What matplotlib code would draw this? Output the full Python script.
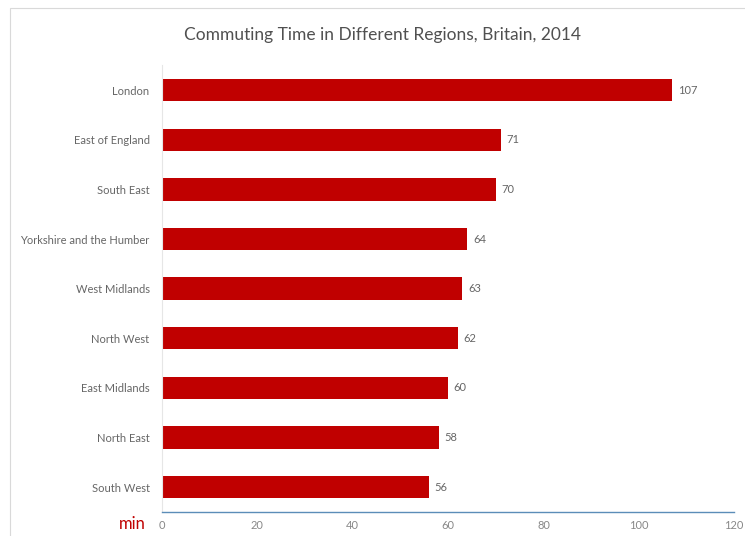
import matplotlib
matplotlib.use("Agg")
import matplotlib.pyplot as plt
from matplotlib.patches import Rectangle

regions = ["London", "East of England", "South East", "Yorkshire and the Humber",
           "West Midlands", "North West", "East Midlands", "North East", "South West"]
minutes = [107, 71, 70, 64, 63, 62, 60, 58, 56]
xticks = [0, 20, 40, 60, 80, 100, 120]

plt.rcParams['font.family'] = ['Lato', 'DejaVu Sans']

fig = plt.figure(figsize=(7.45, 5.36), dpi=100)
ax = fig.add_axes([0.2175, 0.045, 0.768, 0.833])

ypos = list(range(len(regions)))
ax.barh(ypos, minutes, height=0.45, color='#C00000')
ax.set_ylim(len(regions) - 0.5, -0.5)
ax.set_xlim(0, 120)
ax.set_yticks(ypos)
ax.set_yticklabels(regions, fontsize=8, color='#666666')
ax.set_xticks(xticks)
ax.set_xticklabels([str(t) for t in xticks], fontsize=8, color='#888888')
ax.tick_params(axis='both', length=0)
ax.tick_params(axis='x', pad=6)
ax.tick_params(axis='y', pad=9)

for s in ['top', 'right']:
    ax.spines[s].set_visible(False)
ax.spines['bottom'].set_color('#5b8db8')
ax.spines['bottom'].set_linewidth(1.0)
ax.spines['left'].set_color('#e6e6e6')
ax.spines['left'].set_linewidth(0.8)

for y, v in zip(ypos, minutes):
    ax.text(v + 1.2, y, str(v), va='center', ha='left', fontsize=8, color='#666666')

fig.text(0.514, 0.935, "Commuting Time in Different Regions, Britain, 2014",
         ha='center', va='center', fontsize=12.5, color='#505050')
fig.text(0.178, 0.022, "min", ha='center', va='center', fontsize=12, color='#C00000')

fig.patches.append(Rectangle((0.013, -0.01), 1.0, 0.995, transform=fig.transFigure,
                             fill=False, edgecolor='#d9d9d9', linewidth=0.8))

fig.savefig("out.png", dpi=100)
